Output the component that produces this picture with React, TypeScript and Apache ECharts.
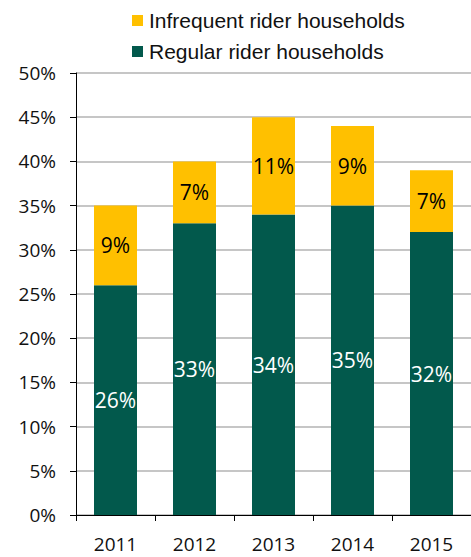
import React, { useEffect, useRef } from "react";
import * as echarts from "echarts";

const years = ["2011", "2012", "2013", "2014", "2015"];
const regular = [26, 33, 34, 35, 32];
const infrequent = [9, 7, 11, 9, 7];
const yTicks = { min: 0, max: 50, interval: 5 };

const GREEN = "#02594C";
const YELLOW = "#FFC000";
const NUM_FONT = "Open Sans";

export default function App() {
  const ref = useRef<HTMLDivElement>(null);
  useEffect(() => {
    if (!ref.current) return;
    const chart = echarts.init(ref.current, null, { renderer: "svg" });
    chart.setOption({
      animation: false,
      legend: {
        orient: "vertical",
        left: 127,
        top: 5,
        itemWidth: 11,
        itemHeight: 11,
        itemGap: 10,
        icon: "rect",
        data: ["Infrequent rider households", "Regular rider households"],
        textStyle: { fontFamily: "Liberation Sans", fontSize: 21, color: "#111", padding: [0, 0, 0, 1] },
      },
      grid: { left: 76, top: 73, width: 400, height: 442, containLabel: false },
      xAxis: {
        type: "category",
        data: years,
        axisLine: { lineStyle: { color: "#000", width: 1 } },
        axisTick: { show: true, length: 6, lineStyle: { color: "#000" } },
        axisLabel: { fontFamily: NUM_FONT, fontSize: 19, color: "#111", margin: 19 },
      },
      yAxis: {
        type: "value",
        min: yTicks.min,
        max: yTicks.max,
        interval: yTicks.interval,
        axisLine: { show: true, lineStyle: { color: "#000", width: 1 } },
        axisTick: { show: true, length: 6, lineStyle: { color: "#000" } },
        splitLine: { lineStyle: { color: "#b3b3b3", width: 1.5 } },
        axisLabel: {
          fontFamily: NUM_FONT,
          fontSize: 19,
          color: "#111",
          margin: 20,
          formatter: (v: number) => v + "%",
        },
      },
      series: [
        {
          name: "Regular rider households",
          type: "bar",
          stack: "total",
          barWidth: 43,
          data: regular,
          itemStyle: { color: GREEN },
          label: {
            show: true,
            position: "inside",
            formatter: "{c}%",
            color: "#fff",
            fontFamily: NUM_FONT,
            fontSize: 21,
          },
        },
        {
          name: "Infrequent rider households",
          type: "bar",
          stack: "total",
          barWidth: 43,
          data: infrequent,
          itemStyle: { color: YELLOW },
          label: {
            show: true,
            position: "inside",
            formatter: "{c}%",
            color: "#000",
            fontFamily: NUM_FONT,
            fontSize: 21,
          },
        },
      ],
    });
    return () => chart.dispose();
  }, []);
  return <div ref={ref} style={{ width: 471, height: 557, position: "absolute", left: 0, top: 0 }} />;
}
